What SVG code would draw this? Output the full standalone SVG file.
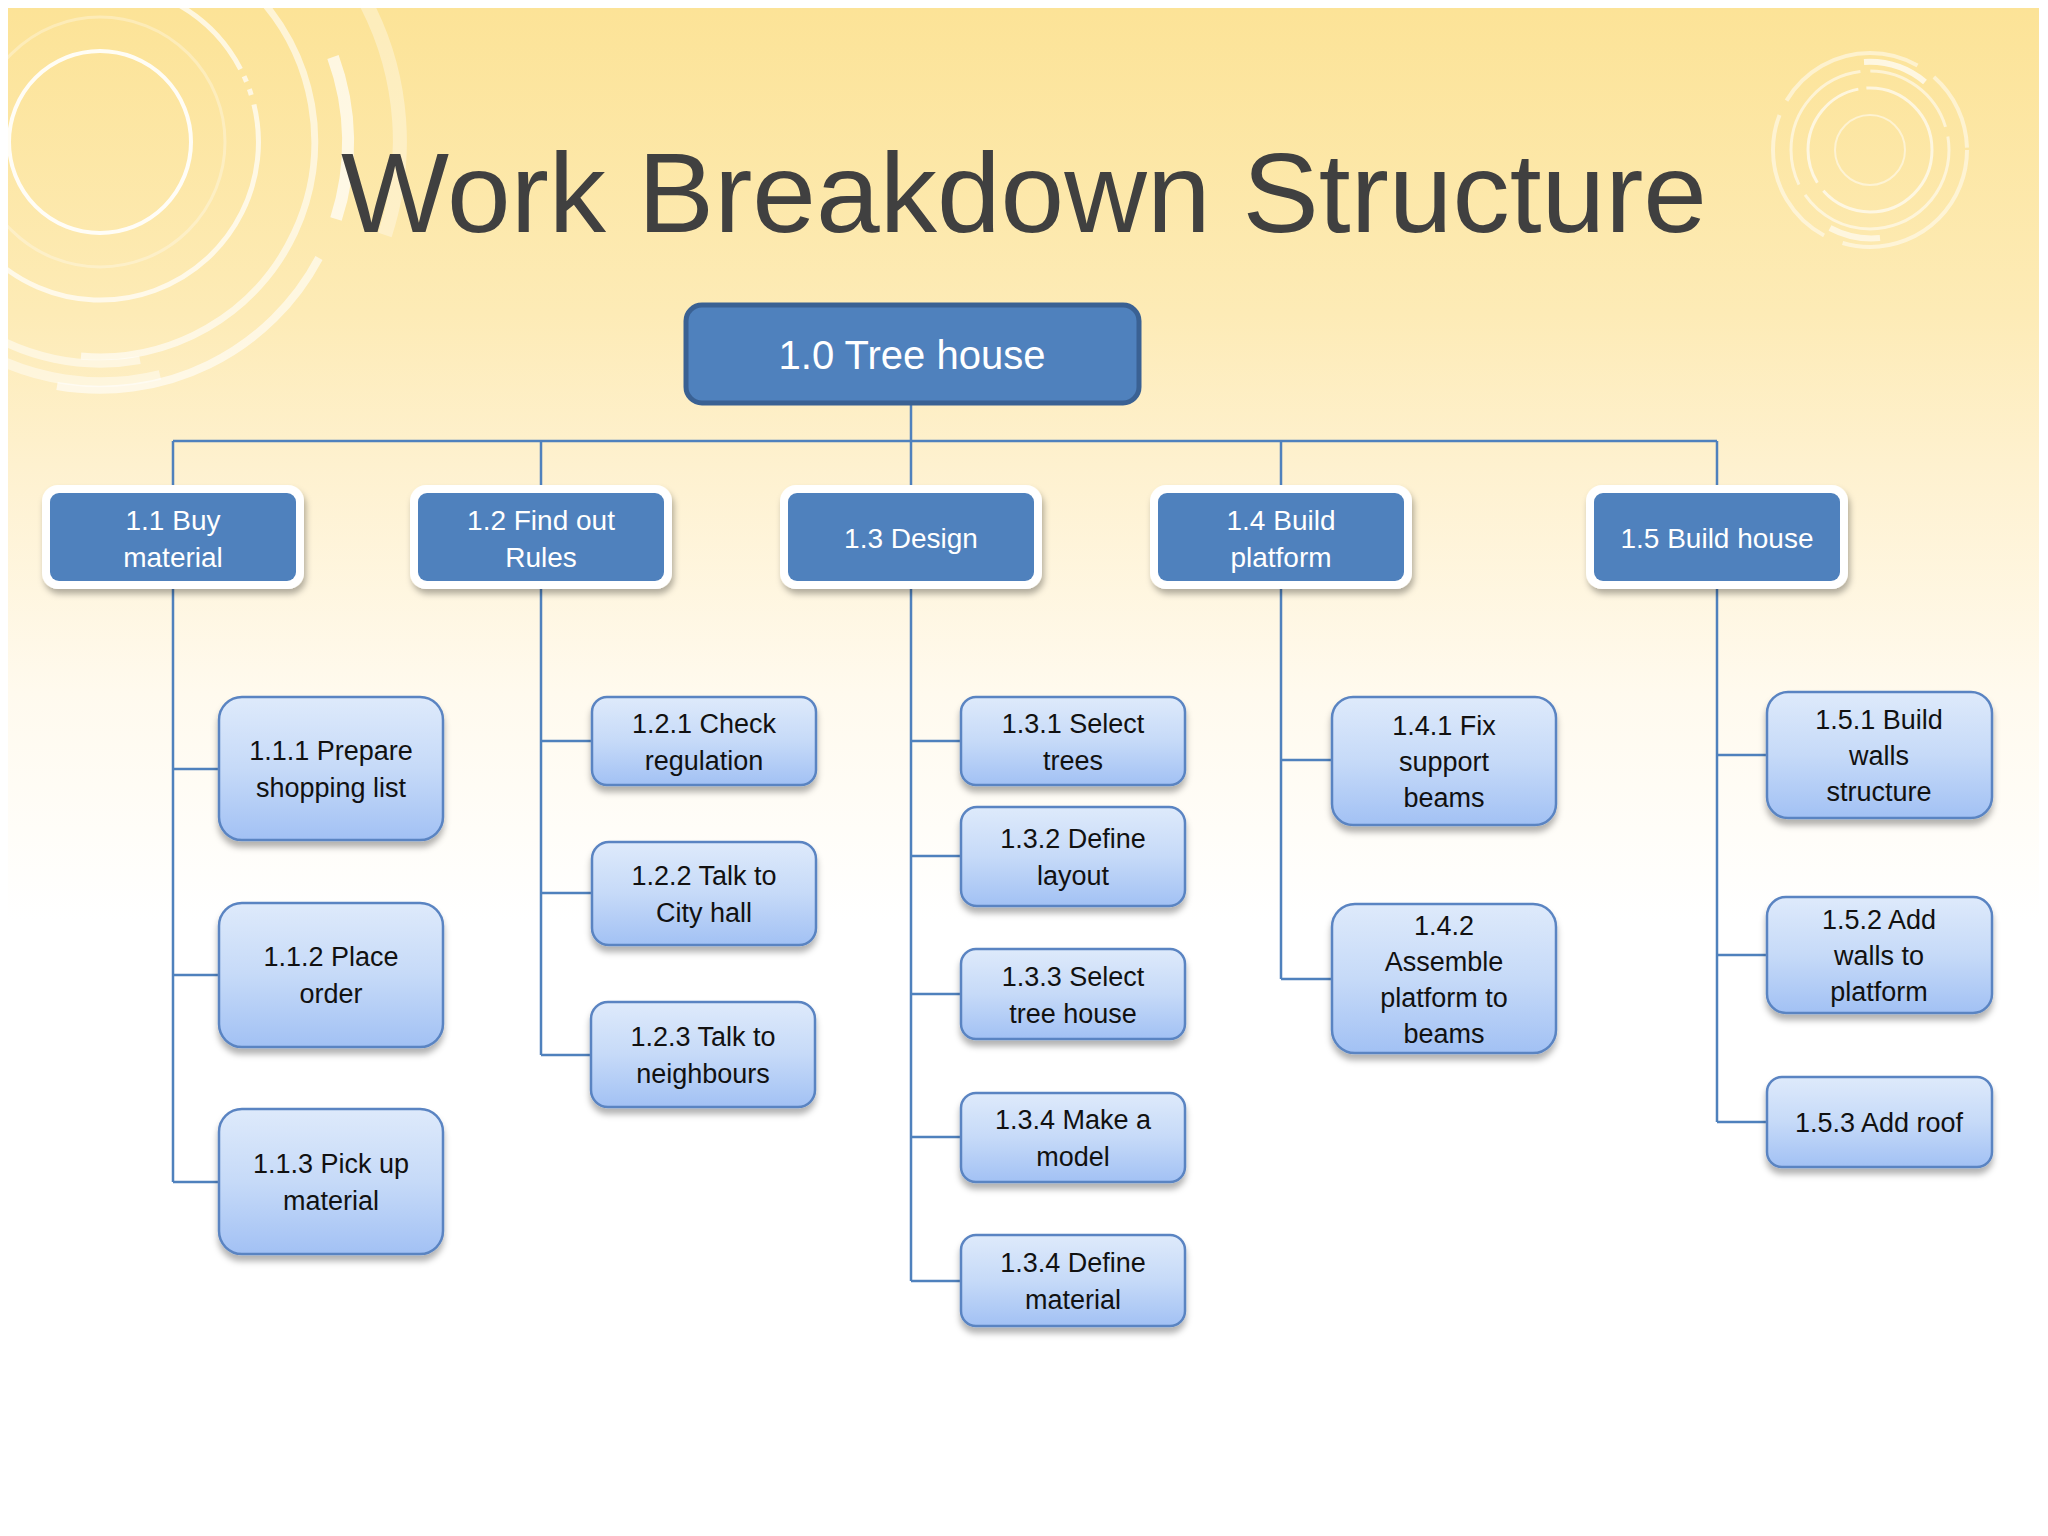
<svg xmlns="http://www.w3.org/2000/svg" width="2048" height="1536" viewBox="0 0 2048 1536">
<defs>
<linearGradient id="bg" gradientUnits="userSpaceOnUse" x1="0" y1="8" x2="0" y2="1530">
<stop offset="0" stop-color="#FCE397"/>
<stop offset="0.2" stop-color="#FDEBB6"/>
<stop offset="0.3" stop-color="#FEF1CF"/>
<stop offset="0.45" stop-color="#FFFAEE"/>
<stop offset="0.6" stop-color="#FFFFFF"/>
<stop offset="1" stop-color="#FFFFFF"/>
</linearGradient>
<linearGradient id="g2" x1="0" y1="0" x2="0" y2="1">
<stop offset="0" stop-color="#DEEAFB"/>
<stop offset="0.5" stop-color="#C6DAF8"/>
<stop offset="1" stop-color="#A2C1F4"/>
</linearGradient>
<filter id="sh1" x="-20%" y="-20%" width="140%" height="150%">
<feDropShadow dx="2" dy="5" stdDeviation="3" flood-color="#000" flood-opacity="0.3"/>
</filter>
<filter id="sh2" x="-20%" y="-20%" width="140%" height="150%">
<feDropShadow dx="0" dy="6" stdDeviation="3" flood-color="#000" flood-opacity="0.3"/>
</filter>
<clipPath id="slide"><rect x="8" y="8" width="2031" height="1522"/></clipPath>
</defs>
<style>
.conn{stroke:#4F81BD;stroke-width:2.5;fill:none}
.deco{fill:none;stroke:#FFFFFF}
.l1w{fill:#FFFFFF;filter:url(#sh1)}
.l1b{fill:#4F81BD}
.l1t{font-family:'Liberation Sans',Arial,sans-serif;font-size:28px;fill:#FFFFFF;text-anchor:middle}
.l2{fill:url(#g2);stroke:#5A84C2;stroke-width:2.5;filter:url(#sh2)}
.l2t{font-family:'Liberation Sans',Arial,sans-serif;font-size:27px;fill:#111111;text-anchor:middle}
</style>
<rect x="0" y="0" width="2048" height="1536" fill="#FFFFFF"/>
<rect x="8" y="8" width="2031" height="1522" fill="url(#bg)"/>
<g id="decoration" clip-path="url(#slide)">
<circle class="deco" cx="100" cy="142" r="91" stroke-width="4" opacity="0.9"/>
<circle class="deco" cx="100" cy="142" r="125" stroke-width="3" opacity="0.3"/>
<path class="deco" d="M179,5 A158,158 0 1 1 -48,88" stroke-width="5" opacity="0.7" stroke-dasharray="90 8 6 8 6 10 600"/>
<path class="deco" d="M252,-10 A215,215 0 0 1 81,356" stroke-width="7" opacity="0.6"/>
<path class="deco" d="M333,57 A248,248 0 0 1 336,219" stroke-width="12" opacity="0.7"/>
<path class="deco" d="M319,258 A248,248 0 0 1 57,386" stroke-width="8" opacity="0.6"/>
<path class="deco" d="M178,-148 A300,300 0 0 1 385,235" stroke-width="14" opacity="0.35"/>
<path class="deco" d="M140,360 A222,222 0 0 1 -120,170" stroke-width="8" opacity="0.5"/>
<path class="deco" d="M160,375 A245,245 0 0 1 -140,180" stroke-width="10" opacity="0.45"/>
<circle class="deco" cx="1870" cy="150" r="35" stroke-width="2" opacity="0.5"/>
<circle class="deco" cx="1870" cy="150" r="62" stroke-width="3" opacity="0.65" stroke-dasharray="150 10 120 8"/>
<circle class="deco" cx="1870" cy="150" r="79" stroke-width="3" opacity="0.55" stroke-dasharray="200 12 150 10 100 10"/>
<circle class="deco" cx="1870" cy="150" r="97" stroke-width="4" opacity="0.5" stroke-dasharray="180 20 140 16 150 20 80 10"/>
<path class="deco" d="M1864,62 A88,88 0 0 1 1925,82" stroke-width="6" opacity="0.7"/>
<path class="deco" d="M1830,228 A88,88 0 0 0 1880,238" stroke-width="6" opacity="0.6"/>
</g>
<text id="title" x="1024" y="232" font-family="'Liberation Sans',Arial,sans-serif" font-size="114" fill="#404040" text-anchor="middle" textLength="1366" lengthAdjust="spacingAndGlyphs">Work Breakdown Structure</text>
<g id="connectors" class="conn">
<path d="M911,405 V441 M173,441 H1717"/>
<path d="M173,441 V485 M541,441 V485 M911,441 V485 M1281,441 V485 M1717,441 V485"/>
<path d="M173,588 V1182 M173,769 H219 M173,975 H219 M173,1182 H219"/>
<path d="M541,588 V1055 M541,741 H592 M541,893 H592 M541,1055 H592"/>
<path d="M911,588 V1281 M911,741 H961 M911,856 H961 M911,994 H961 M911,1137 H961 M911,1281 H961"/>
<path d="M1281,588 V979 M1281,760 H1332 M1281,979 H1332"/>
<path d="M1717,588 V1122 M1717,755 H1767 M1717,955 H1767 M1717,1122 H1767"/>
</g>
<g id="n1_0">
<rect x="686" y="305" width="453" height="98" rx="16" fill="#4F81BD" stroke="#3A6193" stroke-width="5"/>
<text x="912" y="369" font-family="'Liberation Sans',Arial,sans-serif" font-size="40" fill="#FFFFFF" text-anchor="middle">1.0 Tree house</text>
</g>
<g id="n1_1">
<rect class="l1w" x="42" y="485" width="262" height="104" rx="16"/>
<rect class="l1b" x="50" y="493" width="246" height="88" rx="9"/>
<text class="l1t" x="173" y="530">1.1 Buy</text>
<text class="l1t" x="173" y="567">material</text>
</g>
<g id="n1_2">
<rect class="l1w" x="410" y="485" width="262" height="104" rx="16"/>
<rect class="l1b" x="418" y="493" width="246" height="88" rx="9"/>
<text class="l1t" x="541" y="530">1.2 Find out</text>
<text class="l1t" x="541" y="567">Rules</text>
</g>
<g id="n1_3">
<rect class="l1w" x="780" y="485" width="262" height="104" rx="16"/>
<rect class="l1b" x="788" y="493" width="246" height="88" rx="9"/>
<text class="l1t" x="911" y="548">1.3 Design</text>
</g>
<g id="n1_4">
<rect class="l1w" x="1150" y="485" width="262" height="104" rx="16"/>
<rect class="l1b" x="1158" y="493" width="246" height="88" rx="9"/>
<text class="l1t" x="1281" y="530">1.4 Build</text>
<text class="l1t" x="1281" y="567">platform</text>
</g>
<g id="n1_5">
<rect class="l1w" x="1586" y="485" width="262" height="104" rx="16"/>
<rect class="l1b" x="1594" y="493" width="246" height="88" rx="9"/>
<text class="l1t" x="1717" y="548">1.5 Build house</text>
</g>
<g id="n1_1_1">
<rect class="l2" x="219" y="697" width="224" height="143" rx="23"/>
<text class="l2t" x="331" y="760">1.1.1 Prepare</text>
<text class="l2t" x="331" y="797">shopping list</text>
</g>
<g id="n1_1_2">
<rect class="l2" x="219" y="903" width="224" height="144" rx="23"/>
<text class="l2t" x="331" y="966">1.1.2 Place</text>
<text class="l2t" x="331" y="1003">order</text>
</g>
<g id="n1_1_3">
<rect class="l2" x="219" y="1109" width="224" height="145" rx="23"/>
<text class="l2t" x="331" y="1173">1.1.3 Pick up</text>
<text class="l2t" x="331" y="1210">material</text>
</g>
<g id="n1_2_1">
<rect class="l2" x="592" y="697" width="224" height="88" rx="15"/>
<text class="l2t" x="704" y="733">1.2.1 Check</text>
<text class="l2t" x="704" y="770">regulation</text>
</g>
<g id="n1_2_2">
<rect class="l2" x="592" y="842" width="224" height="103" rx="17"/>
<text class="l2t" x="704" y="885">1.2.2 Talk to</text>
<text class="l2t" x="704" y="922">City hall</text>
</g>
<g id="n1_2_3">
<rect class="l2" x="591" y="1002" width="224" height="105" rx="17"/>
<text class="l2t" x="703" y="1046">1.2.3 Talk to</text>
<text class="l2t" x="703" y="1083">neighbours</text>
</g>
<g id="n1_3_1">
<rect class="l2" x="961" y="697" width="224" height="88" rx="15"/>
<text class="l2t" x="1073" y="733">1.3.1 Select</text>
<text class="l2t" x="1073" y="770">trees</text>
</g>
<g id="n1_3_2">
<rect class="l2" x="961" y="807" width="224" height="99" rx="16"/>
<text class="l2t" x="1073" y="848">1.3.2 Define</text>
<text class="l2t" x="1073" y="885">layout</text>
</g>
<g id="n1_3_3">
<rect class="l2" x="961" y="949" width="224" height="90" rx="15"/>
<text class="l2t" x="1073" y="986">1.3.3 Select</text>
<text class="l2t" x="1073" y="1023">tree house</text>
</g>
<g id="n1_3_4a">
<rect class="l2" x="961" y="1093" width="224" height="89" rx="15"/>
<text class="l2t" x="1073" y="1129">1.3.4 Make a</text>
<text class="l2t" x="1073" y="1166">model</text>
</g>
<g id="n1_3_4b">
<rect class="l2" x="961" y="1235" width="224" height="91" rx="15"/>
<text class="l2t" x="1073" y="1272">1.3.4 Define</text>
<text class="l2t" x="1073" y="1309">material</text>
</g>
<g id="n1_4_1">
<rect class="l2" x="1332" y="697" width="224" height="128" rx="21"/>
<text class="l2t" x="1444" y="735">1.4.1 Fix</text>
<text class="l2t" x="1444" y="771">support</text>
<text class="l2t" x="1444" y="807">beams</text>
</g>
<g id="n1_4_2">
<rect class="l2" x="1332" y="904" width="224" height="149" rx="23"/>
<text class="l2t" x="1444" y="935">1.4.2</text>
<text class="l2t" x="1444" y="971">Assemble</text>
<text class="l2t" x="1444" y="1007">platform to</text>
<text class="l2t" x="1444" y="1043">beams</text>
</g>
<g id="n1_5_1">
<rect class="l2" x="1767" y="692" width="225" height="126" rx="21"/>
<text class="l2t" x="1879" y="729">1.5.1 Build</text>
<text class="l2t" x="1879" y="765">walls</text>
<text class="l2t" x="1879" y="801">structure</text>
</g>
<g id="n1_5_2">
<rect class="l2" x="1767" y="897" width="225" height="116" rx="19"/>
<text class="l2t" x="1879" y="929">1.5.2 Add</text>
<text class="l2t" x="1879" y="965">walls to</text>
<text class="l2t" x="1879" y="1001">platform</text>
</g>
<g id="n1_5_3">
<rect class="l2" x="1767" y="1077" width="225" height="90" rx="15"/>
<text class="l2t" x="1879" y="1132">1.5.3 Add roof</text>
</g>
</svg>
